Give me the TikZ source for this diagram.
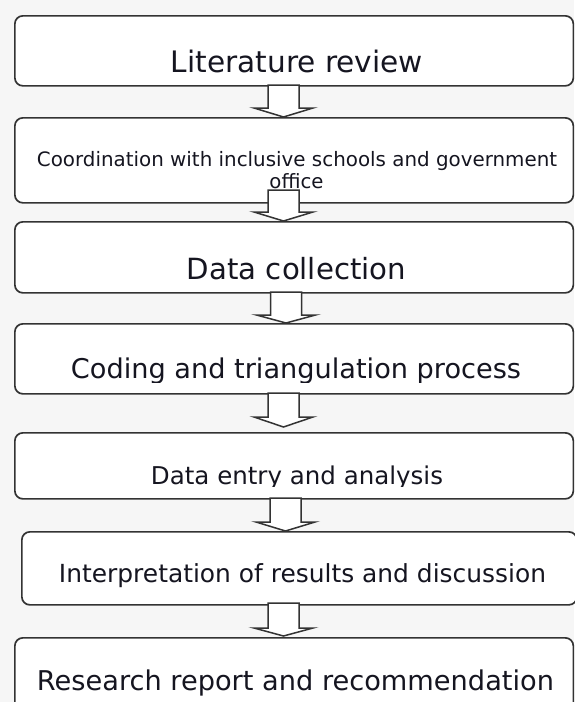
\documentclass[tikz,border=0pt]{standalone}
\usepackage{fontspec}
\setmainfont{DejaVu Sans}
\usetikzlibrary{calc}
\definecolor{bg}{HTML}{F6F6F6}
\definecolor{ln}{HTML}{333333}
\definecolor{tx}{HTML}{151520}
\newcommand\fitw[2]{\resizebox{#1pt}{!}{#2}}
\newcommand\blockarrow[3]{%
  \draw[barrow] ($(#1)+(-15.5,0)$) -- ($(#2)+(-15.5,-#3)$) -- ($(#2)+(-29.5,-#3)$) -- (#2)
    -- ($(#2)+(29.5,-#3)$) -- ($(#2)+(15.5,-#3)$) -- ($(#1)+(15.5,0)$) -- cycle;}
\begin{document}
\begin{tikzpicture}[x=1pt,y=-1pt,
  box/.style={draw=ln, line width=1.7pt, fill=white, rounded corners=8pt, inner sep=0pt, anchor=north west},
  lbl/.style={anchor=base, inner sep=0pt, text=tx},
  barrow/.style={draw=ln, line width=1.5pt, fill=white, line join=miter}]
\useasboundingbox (0,0) rectangle (574,702);
\fill[bg] (0,0) rectangle (574,702);
% boxes
\node[box, minimum width=558.5pt, minimum height=70pt] (b1) at (14,15) {};
\node[box, minimum width=558.5pt, minimum height=85pt] (b2) at (14,117) {};
\node[box, minimum width=558.5pt, minimum height=71pt] (b3) at (14,221) {};
\node[box, minimum width=558.5pt, minimum height=70pt] (b4) at (14,323) {};
\node[box, minimum width=558.5pt, minimum height=66pt] (b5) at (14,432) {};
\node[box, minimum width=555pt, minimum height=73pt] (b6) at (21,531) {};
\node[box, minimum width=558.5pt, minimum height=90pt] (b7) at (14,637) {};
% labels
\node[lbl] (t1) at (297,72) {\fitw{252}{Literature review}};
\node[lbl] (t2a) at (297,166) {\fitw{520}{Coordination with inclusive schools and government}};
\node[lbl] (t2b) at (296.5,188) {\fitw{54}{office}};
\node[lbl] (t3) at (296.5,279) {\fitw{219}{Data collection}};
\begin{scope}
  \clip (0,0) rectangle (574,382);
  \node[lbl] (t4) at (296,378) {\fitw{450}{Coding and triangulation process}};
\end{scope}
\begin{scope}
  \clip (0,400) rectangle (574,486);
  \node[lbl] (t5) at (297,484) {\fitw{292}{Data entry and analysis}};
\end{scope}
\node[lbl] (t6) at (302.5,582) {\fitw{487}{Interpretation of results and discussion}};
\node[lbl] (t7) at (295.5,690) {\fitw{517}{Research report and recommendation}};
% arrows
\coordinate (a1t) at (283.5,85);  \coordinate (a1h) at (283.5,117);
\coordinate (a2t) at (283.5,190); \coordinate (a2h) at (283.5,221);
\coordinate (a3t) at (286,292);   \coordinate (a3h) at (286,323);
\coordinate (a4t) at (283.5,393); \coordinate (a4h) at (283.5,427);
\coordinate (a5t) at (285.5,498); \coordinate (a5h) at (285.5,531);
\coordinate (a6t) at (283.5,603); \coordinate (a6h) at (283.5,636);
\blockarrow{a1t}{a1h}{9}
\blockarrow{a2t}{a2h}{9}
\blockarrow{a3t}{a3h}{8}
\blockarrow{a4t}{a4h}{10}
\blockarrow{a5t}{a5h}{9}
\blockarrow{a6t}{a6h}{8}
\end{tikzpicture}
\end{document}
